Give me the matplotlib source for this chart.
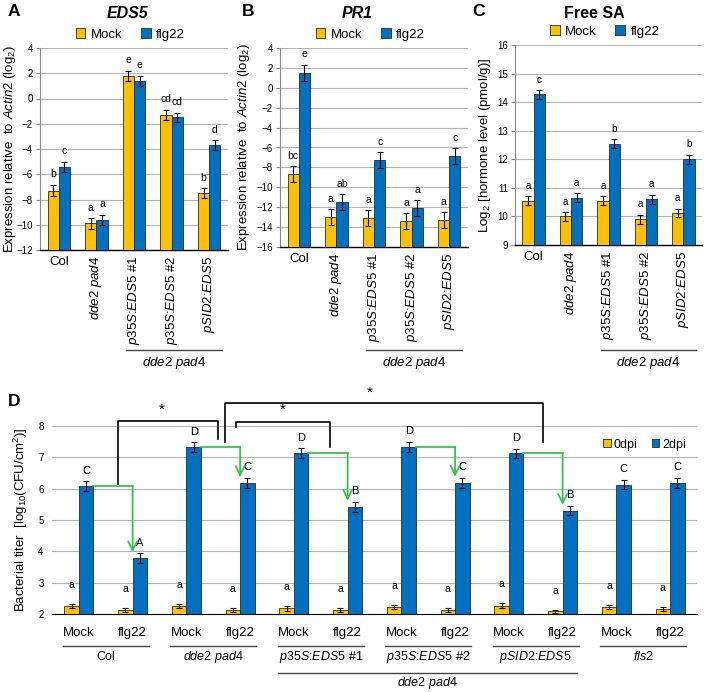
import numpy as np
import matplotlib.pyplot as plt
from matplotlib.transforms import blended_transform_factory

plt.rcParams['font.family'] = ['Liberation Sans', 'DejaVu Sans']
plt.rcParams['mathtext.fontset'] = 'custom'
plt.rcParams['mathtext.rm'] = 'Liberation Sans'
plt.rcParams['mathtext.it'] = 'Liberation Sans:italic'
plt.rcParams['mathtext.bf'] = 'Liberation Sans:bold'

YEL = '#FFC000'
BLU = '#0070C0'
EDGE = '#2a2a2a'
GREEN = '#3cbf4f'

# ---- data, top panels ----
genotypes = ['Col', r'$\mathit{dde2\ pad4}$', r'$\mathit{p35S}$:$\mathit{EDS5}$ #1',
             r'$\mathit{p35S}$:$\mathit{EDS5}$ #2', r'$\mathit{pSID2}$:$\mathit{EDS5}$']

eds5_mock = [-7.3, -9.9, 1.8, -1.3, -7.5]
eds5_mock_err = [0.45, 0.4, 0.4, 0.4, 0.4]
eds5_flg = [-5.4, -9.6, 1.4, -1.5, -3.7]
eds5_flg_err = [0.4, 0.4, 0.4, 0.35, 0.4]
eds5_let_mock = ['b', 'a', 'e', 'cd', 'b']
eds5_let_flg = ['c', 'a', 'e', 'cd', 'd']

pr1_mock = [-8.7, -13.0, -13.1, -13.4, -13.3]
pr1_mock_err = [0.8, 0.8, 0.8, 0.8, 0.8]
pr1_flg = [1.5, -11.5, -7.3, -12.1, -6.9]
pr1_flg_err = [0.8, 0.8, 0.8, 0.8, 0.8]
pr1_let_mock = ['bc', 'a', 'a', 'a', 'a']
pr1_let_flg = ['e', 'ab', 'c', 'a', 'c']

sa_mock = [10.55, 10.0, 10.55, 9.9, 10.12]
sa_mock_err = [0.16, 0.15, 0.16, 0.16, 0.15]
sa_flg = [14.27, 10.65, 12.55, 10.6, 12.0]
sa_flg_err = [0.15, 0.16, 0.15, 0.15, 0.15]
sa_let_mock = ['a', 'a', 'a', 'a', 'a']
sa_let_flg = ['c', 'a', 'b', 'a', 'b']

# ---- data, panel D ----
treat = ['Mock', 'flg22'] * 6
d_geno = ['Col', r'$\mathit{dde2\ pad4}$', r'$\mathit{p35S}$:$\mathit{EDS5}$ #1',
          r'$\mathit{p35S}$:$\mathit{EDS5}$ #2', r'$\mathit{pSID2}$:$\mathit{EDS5}$',
          r'$\mathit{fls2}$']
d0 = [2.25, 2.12, 2.25, 2.12, 2.18, 2.12, 2.22, 2.12, 2.27, 2.08, 2.22, 2.15]
d0_err = [0.07, 0.07, 0.07, 0.07, 0.07, 0.07, 0.07, 0.07, 0.07, 0.06, 0.07, 0.07]
d2 = [6.07, 3.78, 7.32, 6.18, 7.13, 5.43, 7.33, 6.19, 7.13, 5.30, 6.13, 6.19]
d2_err = [0.16, 0.16, 0.16, 0.16, 0.16, 0.16, 0.16, 0.16, 0.15, 0.15, 0.15, 0.16]
d0_let = ['a'] * 12
d2_let = ['C', 'A', 'D', 'C', 'D', 'B', 'D', 'C', 'D', 'B', 'C', 'C']

W, H = 709, 692
fig = plt.figure(figsize=(W / 100, H / 100), dpi=100)


def rect(l, t, r, b):
    return [l / W, 1 - b / H, (r - l) / W, (b - t) / H]


def fy(py):
    return 1 - py / H


def top_panel(ax, mock, mock_err, flg, flg_err, lm, lf, ylim, yticks, ylabel, fs_let=7.5):
    x = np.arange(len(genotypes))
    w = 0.3
    base = ylim[0]
    ekw = dict(lw=0.8, capthick=0.8, ecolor='black')
    ax.bar(x - w / 2, np.array(mock) - base, w, bottom=base, yerr=mock_err, color=YEL,
           edgecolor=EDGE, lw=0.6, capsize=2.5, error_kw=ekw, label='Mock', zorder=3)
    ax.bar(x + w / 2, np.array(flg) - base, w, bottom=base, yerr=flg_err, color=BLU,
           edgecolor=EDGE, lw=0.6, capsize=2.5, error_kw=ekw, label='flg22', zorder=3)
    for xi, v, e, t in zip(x - w / 2, mock, mock_err, lm):
        ax.annotate(t, (xi, v + e), xytext=(0, 4), textcoords='offset points',
                    ha='center', va='bottom', fontsize=fs_let)
    for xi, v, e, t in zip(x + w / 2, flg, flg_err, lf):
        ax.annotate(t, (xi, v + e), xytext=(0, 4), textcoords='offset points',
                    ha='center', va='bottom', fontsize=fs_let)
    ax.set_ylim(*ylim)
    ax.set_xlim(-0.5, len(x) - 0.5)
    ax.set_yticks(yticks)
    ax.yaxis.grid(True, color='#b4b4b4', lw=0.8)
    ax.set_axisbelow(True)
    for s in ['top', 'right']:
        ax.spines[s].set_visible(False)
    ax.spines['left'].set_color('#888888')
    ax.spines['bottom'].set_color('black')
    ax.spines['bottom'].set_linewidth(1.0)
    ax.tick_params(axis='y', labelsize=7, length=3, color='#888888', pad=2)
    ax.tick_params(axis='x', length=0, pad=4)
    ax.set_xticks(x)
    ax.set_xticklabels(genotypes, fontsize=9.5)
    for i, lbl in enumerate(ax.get_xticklabels()):
        lbl.set_rotation(0 if i == 0 else 90)
        lbl.set_va('top')
        lbl.set_ha('center')
    ax.set_ylabel(ylabel, fontsize=9.5, labelpad=3)
    ax.legend(ncol=2, loc='lower center', bbox_to_anchor=(0.48, 0.99), frameon=False,
              handlelength=0.75, handleheight=0.75, handletextpad=0.4,
              columnspacing=1.4, fontsize=9.5, borderpad=0.2)
    # group underline
    tr = blended_transform_factory(ax.transData, fig.transFigure)
    ax.plot([1.8, 4.33], [fy(350), fy(350)], color='#444444', lw=1.0,
            transform=tr, clip_on=False)
    ax.text(3.06, fy(363), r'$\mathit{dde2\ pad4}$', ha='center', va='center',
            fontsize=9.5, transform=tr)


axA = fig.add_axes(rect(40, 48, 228, 250))
top_panel(axA, eds5_mock, eds5_mock_err, eds5_flg, eds5_flg_err, eds5_let_mock, eds5_let_flg,
          (-12, 4), range(-12, 5, 2),
          r'Expression relative  to $\mathit{Actin2}$ (log$_2$)')
axA.yaxis.set_label_coords(-0.118, 0.5)
axB = fig.add_axes(rect(280, 48, 468, 247))
top_panel(axB, pr1_mock, pr1_mock_err, pr1_flg, pr1_flg_err, pr1_let_mock, pr1_let_flg,
          (-16, 4), range(-16, 5, 2),
          r'Expression relative  to $\mathit{Actin2}$ (log$_2$)')
axC = fig.add_axes(rect(515, 45, 702, 245))
top_panel(axC, sa_mock, sa_mock_err, sa_flg, sa_flg_err, sa_let_mock, sa_let_flg,
          (9, 16), range(9, 17), r'Log$_2$ [hormone level (pmol/g)]', fs_let=7)

fig.text(8 / W, fy(12), 'A', fontsize=12.5, fontweight='bold', va='center')
fig.text(242 / W, fy(12), 'B', fontsize=12.5, fontweight='bold', va='center')
fig.text(472 / W, fy(12), 'C', fontsize=12.5, fontweight='bold', va='center')
fig.text(8 / W, fy(402), 'D', fontsize=12.5, fontweight='bold', va='center')
fig.text(128 / W, fy(14), 'EDS5', fontsize=11.5, fontweight='bold', style='italic',
         ha='center', va='center')
fig.text(357 / W, fy(14), 'PR1', fontsize=11.5, fontweight='bold', style='italic',
         ha='center', va='center')
fig.text(594 / W, fy(14), 'Free SA', fontsize=11.5, fontweight='bold',
         ha='center', va='center')

# ---- panel D ----
axD = fig.add_axes(rect(52, 426, 697, 614))
xd = np.arange(len(treat))
wd = 0.27
ekw = dict(lw=0.8, capthick=0.8, ecolor='black')
axD.bar(xd - wd / 2, np.array(d0) - 2, wd, bottom=2, yerr=d0_err, color=YEL, edgecolor=EDGE,
        lw=0.6, capsize=2.5, error_kw=ekw, label='0dpi', zorder=3)
axD.bar(xd + wd / 2, np.array(d2) - 2, wd, bottom=2, yerr=d2_err, color=BLU, edgecolor=EDGE,
        lw=0.6, capsize=2.5, error_kw=ekw, label='2dpi', zorder=3)
for xi, v, e, t in zip(xd - wd / 2, d0, d0_err, d0_let):
    axD.annotate(t, (xi, v + e), xytext=(0, 10), textcoords='offset points',
                 ha='center', va='bottom', fontsize=7.5)
for xi, v, e, t in zip(xd + wd / 2, d2, d2_err, d2_let):
    axD.annotate(t, (xi, v + e), xytext=(0, 4), textcoords='offset points',
                 ha='center', va='bottom', fontsize=8)
axD.set_ylim(2, 8)
axD.set_xlim(-0.5, len(xd) - 0.5)
axD.set_yticks(range(2, 9))
axD.yaxis.grid(True, color='#b4b4b4', lw=0.8)
axD.set_axisbelow(True)
for s in ['top', 'right', 'left']:
    axD.spines[s].set_visible(False)
axD.spines['bottom'].set_color('black')
axD.tick_params(axis='y', labelsize=7, length=0, pad=6)
axD.set_xticks([])
axD.set_ylabel(r'Bacterial titer  [log$_{10}$(CFU/cm$^2$)]', fontsize=9.5, labelpad=6)
axD.legend(ncol=2, loc='center right', bbox_to_anchor=(1.0, 0.9), frameon=False,
           handlelength=0.6, handleheight=0.6, handletextpad=0.2, columnspacing=1.2,
           fontsize=9)

# green arrows: mock 2dpi -> flg22 2dpi within each genotype (except fls2)
for m in [0, 2, 4, 6, 8]:
    f = m + 1
    xs = m + wd
    xe = f
    axD.plot([xs, xe], [d2[m], d2[m]], color=GREEN, lw=1.3, zorder=4)
    axD.annotate('', xy=(xe, d2[f] + d2_err[f] + 0.03), xytext=(xe, d2[m]),
                 arrowprops=dict(arrowstyle='->', color=GREEN, lw=1.3,
                                 mutation_scale=16, shrinkA=0, shrinkB=0), zorder=4)

# significance brackets: (x_left, y_left, x_right, y_right, y_top, x_star, y_star)
brackets = [(0.73, 6.15, 2.59, 7.6, 8.17, 1.55, 8.3),
            (2.92, 7.98, 4.67, 7.34, 8.12, 3.80, 8.3),
            (2.72, 7.5, 8.63, 7.5, 8.72, 5.42, 8.85)]
for xl, yl, xr, yr, yt, xs_, ys_ in brackets:
    axD.plot([xl, xl, xr, xr], [yl, yt, yt, yr], color='black', lw=1.2, clip_on=False)
    axD.text(xs_, ys_, '*', ha='center', va='bottom', fontsize=11, clip_on=False)

trD = blended_transform_factory(axD.transData, fig.transFigure)
for xi, t in zip(xd, treat):
    axD.text(xi, fy(633), t, ha='center', va='center', fontsize=9.5, transform=trD)
for g, name in enumerate(d_geno):
    x0, x1 = 2 * g - 0.3, 2 * g + 1.3
    axD.plot([x0, x1], [fy(646), fy(646)], color='#444444', lw=1.0, transform=trD,
             clip_on=False)
    axD.text((x0 + x1) / 2, fy(657), name, ha='center', va='center', fontsize=9,
             transform=trD)
axD.plot([3.7, 9.27], [fy(673), fy(673)], color='#444444', lw=1.0, transform=trD,
         clip_on=False)
axD.text(6.48, fy(683), r'$\mathit{dde2\ pad4}$', ha='center', va='center', fontsize=9,
         transform=trD)

fig.savefig('out.png', dpi=100)
